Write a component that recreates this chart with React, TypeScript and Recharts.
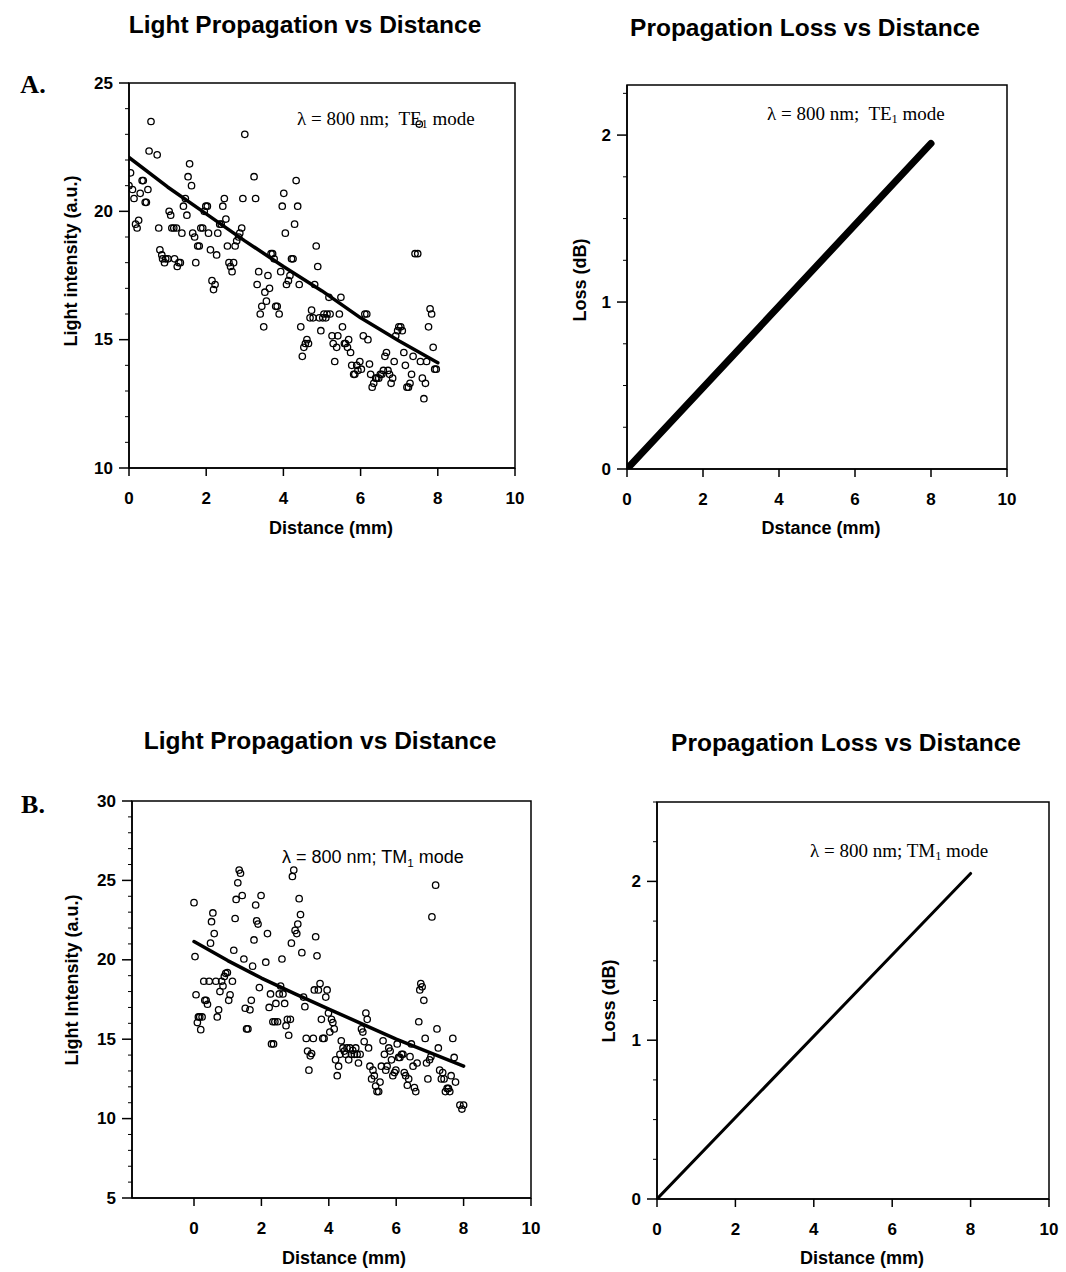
import React from "react";
import { ScatterChart, Scatter, XAxis, YAxis, ReferenceArea } from "recharts";

// [distance mm, light intensity a.u.] (TE1)
const teScan: [number, number][] = [
  [0, 21.0], [0.04, 21.5], [0.09, 20.85], [0.13, 20.5], [0.17, 19.5], [0.21, 19.35], [0.25, 19.65],
  [0.29, 20.7], [0.34, 21.2], [0.37, 21.2], [0.42, 20.35], [0.45, 20.35], [0.49, 20.85], [0.52, 22.35],
  [0.57, 23.5], [0.73, 22.2], [0.77, 19.35], [0.8, 18.5], [0.85, 18.3], [0.87, 18.15], [0.92, 18.0],
  [0.95, 18.15], [1.01, 18.15], [1.04, 20.0], [1.08, 19.85], [1.11, 19.35], [1.16, 19.35], [1.18, 18.15],
  [1.23, 19.35], [1.25, 17.85], [1.29, 18.0], [1.33, 18.0], [1.37, 19.15], [1.41, 20.2], [1.46, 20.5],
  [1.5, 19.85], [1.53, 21.35], [1.57, 21.85], [1.62, 21.0], [1.65, 19.15], [1.7, 19.0], [1.73, 18.0],
  [1.78, 18.65], [1.82, 18.65], [1.86, 19.35], [1.91, 19.35], [1.95, 20.0], [1.99, 20.2], [2.03, 20.2],
  [2.06, 19.15], [2.11, 18.5], [2.15, 17.3], [2.19, 16.95], [2.23, 17.15], [2.27, 18.3], [2.3, 19.15],
  [2.35, 19.5], [2.39, 19.5], [2.43, 20.2], [2.47, 20.5], [2.51, 19.7], [2.55, 18.65], [2.59, 18.0],
  [2.63, 17.85], [2.67, 17.65], [2.71, 18.0], [2.75, 18.65], [2.79, 18.85], [2.84, 19.0], [2.87, 19.15],
  [2.92, 19.35], [2.95, 20.5], [3.0, 23.0], [3.24, 21.35], [3.28, 20.5], [3.32, 17.15], [3.36, 17.65],
  [3.4, 16.0], [3.44, 16.3], [3.49, 15.5], [3.52, 16.85], [3.56, 16.5], [3.6, 17.5], [3.64, 17.0],
  [3.68, 18.35], [3.72, 18.35], [3.76, 18.15], [3.8, 16.3], [3.84, 16.3], [3.89, 16.0], [3.93, 17.65],
  [3.97, 20.2], [4.01, 20.7], [4.05, 19.15], [4.08, 17.15], [4.13, 17.3], [4.17, 17.5], [4.21, 18.15],
  [4.25, 18.15], [4.29, 19.5], [4.33, 21.2], [4.37, 20.2], [4.41, 17.15], [4.45, 15.5], [4.49, 14.35],
  [4.53, 14.7], [4.57, 14.85], [4.61, 15.0], [4.65, 14.85], [4.69, 15.85], [4.73, 16.15], [4.77, 15.85],
  [4.81, 17.15], [4.85, 18.65], [4.89, 17.85], [4.93, 15.85], [4.97, 15.35], [5.02, 15.85], [5.05, 16.0],
  [5.1, 15.85], [5.13, 16.0], [5.18, 16.65], [5.21, 16.0], [5.26, 15.15], [5.29, 14.85], [5.33, 14.15],
  [5.38, 14.7], [5.41, 15.15], [5.45, 16.0], [5.49, 16.65], [5.53, 15.5], [5.58, 14.85], [5.61, 14.85],
  [5.66, 14.7], [5.69, 15.0], [5.74, 14.5], [5.77, 14.0], [5.82, 13.65], [5.85, 13.65], [5.9, 14.0],
  [5.93, 13.8], [5.98, 14.15], [6.02, 13.85], [6.07, 15.15], [6.11, 16.0], [6.16, 16.0], [6.19, 15.0],
  [6.23, 14.05], [6.26, 13.65], [6.3, 13.15], [6.34, 13.3], [6.39, 13.5], [6.42, 13.5], [6.47, 13.5],
  [6.51, 13.65], [6.55, 13.65], [6.59, 13.8], [6.63, 14.35], [6.67, 14.5], [6.71, 13.8], [6.75, 13.65],
  [6.79, 13.3], [6.83, 13.5], [6.87, 14.15], [6.91, 15.15], [6.96, 15.35], [6.99, 15.5], [7.04, 15.5],
  [7.08, 15.35], [7.12, 14.5], [7.16, 14.0], [7.2, 13.15], [7.24, 13.15], [7.28, 13.3], [7.32, 13.65],
  [7.36, 14.35], [7.41, 18.35], [7.48, 18.35], [7.52, 23.4], [7.55, 14.15], [7.6, 13.5], [7.64, 12.7],
  [7.68, 13.3], [7.71, 14.15], [7.76, 15.5], [7.8, 16.2], [7.84, 16.0], [7.88, 14.7], [7.92, 13.85],
  [7.96, 13.85],
];

// [distance mm, light intensity a.u.] (TM1)
const tmScan: [number, number][] = [
  [0, 23.6], [0.03, 20.2], [0.06, 17.8], [0.1, 16.05], [0.13, 16.4], [0.17, 16.4], [0.2, 15.6],
  [0.24, 16.4], [0.29, 18.65], [0.32, 17.45], [0.36, 17.45], [0.4, 17.2], [0.45, 18.65], [0.49, 21.05],
  [0.52, 22.4], [0.56, 22.95], [0.6, 21.65], [0.65, 18.65], [0.69, 16.4], [0.73, 16.85], [0.77, 18.0],
  [0.82, 18.65], [0.86, 18.35], [0.9, 18.95], [0.94, 19.15], [0.99, 19.2], [1.03, 17.45], [1.07, 17.8],
  [1.14, 18.65], [1.18, 20.6], [1.22, 22.6], [1.25, 23.8], [1.3, 24.85], [1.34, 25.65], [1.38, 25.45],
  [1.43, 24.05], [1.48, 20.05], [1.52, 16.95], [1.56, 15.65], [1.6, 15.65], [1.66, 16.85], [1.7, 17.45],
  [1.74, 19.6], [1.78, 21.25], [1.83, 23.45], [1.86, 22.45], [1.9, 22.25], [1.94, 18.25], [1.99, 24.05],
  [2.13, 19.85], [2.18, 21.65], [2.23, 17.0], [2.27, 17.85], [2.3, 14.7], [2.34, 16.1], [2.36, 14.7],
  [2.4, 16.1], [2.43, 17.25], [2.48, 16.1], [2.53, 17.85], [2.57, 18.35], [2.61, 20.05], [2.64, 17.85],
  [2.69, 17.25], [2.73, 15.85], [2.77, 16.25], [2.81, 15.25], [2.86, 16.25], [2.89, 21.05], [2.92, 25.25],
  [2.96, 25.65], [3.0, 21.85], [3.05, 21.65], [3.08, 22.25], [3.12, 23.85], [3.16, 22.85], [3.2, 20.45],
  [3.25, 17.65], [3.29, 17.05], [3.33, 15.05], [3.37, 14.25], [3.41, 13.05], [3.45, 13.95], [3.49, 14.1],
  [3.54, 15.05], [3.57, 18.1], [3.61, 21.45], [3.65, 20.25], [3.69, 18.1], [3.74, 18.5], [3.78, 16.25],
  [3.82, 15.05], [3.86, 15.05], [3.91, 17.65], [3.95, 18.1], [3.99, 16.65], [4.03, 15.45], [4.08, 16.25],
  [4.12, 16.05], [4.16, 15.65], [4.2, 13.7], [4.25, 12.7], [4.29, 13.3], [4.33, 14.05], [4.37, 14.9],
  [4.42, 14.45], [4.46, 14.25], [4.5, 14.05], [4.54, 14.45], [4.59, 13.7], [4.63, 14.45], [4.67, 14.05],
  [4.71, 14.3], [4.76, 14.05], [4.8, 14.45], [4.84, 14.05], [4.88, 13.5], [4.93, 14.05], [4.97, 15.65],
  [5.01, 15.45], [5.05, 14.85], [5.1, 16.65], [5.14, 16.25], [5.18, 14.45], [5.22, 13.3], [5.27, 12.5],
  [5.31, 13.05], [5.35, 12.7], [5.39, 12.05], [5.43, 11.7], [5.48, 11.7], [5.52, 12.3], [5.56, 13.3],
  [5.61, 14.9], [5.65, 14.05], [5.69, 13.05], [5.73, 13.3], [5.78, 14.45], [5.82, 14.25], [5.86, 13.7],
  [5.9, 12.7], [5.95, 12.9], [5.99, 13.05], [6.03, 14.7], [6.07, 13.85], [6.11, 13.85], [6.16, 14.05],
  [6.2, 14.05], [6.24, 12.9], [6.28, 12.7], [6.33, 12.1], [6.37, 12.5], [6.41, 13.9], [6.45, 14.7],
  [6.5, 13.3], [6.54, 11.95], [6.58, 11.7], [6.62, 13.5], [6.67, 16.1], [6.7, 18.1], [6.73, 18.5],
  [6.77, 18.3], [6.82, 17.45], [6.86, 15.05], [6.9, 13.5], [6.94, 12.5], [6.99, 13.7], [7.03, 13.9],
  [7.06, 22.7], [7.17, 24.7], [7.21, 15.65], [7.25, 14.45], [7.29, 13.05], [7.34, 12.5], [7.38, 12.9],
  [7.42, 12.5], [7.46, 11.7], [7.51, 11.9], [7.55, 11.9], [7.59, 11.7], [7.63, 12.7], [7.68, 15.05],
  [7.72, 13.85], [7.76, 12.3], [7.89, 10.85], [7.95, 10.6], [8.0, 10.85],
];

// fitted decay curves, read at whole millimetres
const fitDistance = [0, 1, 2, 3, 4, 5, 6, 7, 8];
const teFit = [22.1, 20.95, 19.9, 18.85, 17.85, 16.9, 15.85, 14.95, 14.1];
const tmFit = [21.15, 19.95, 18.85, 17.85, 16.9, 15.95, 15.0, 14.15, 13.3];

// propagation loss lines
const lossDistance = [0, 8];
const teLoss = [0, 1.95];
const tmLoss = [0, 2.05];

const xTicks = [0, 2, 4, 6, 8, 10];

const SANS = "'Liberation Sans', Arial, sans-serif";
const SERIF = "'Liberation Serif', 'Times New Roman', serif";

const toPoints = (rows: [number, number][]) => rows.map(([x, y]) => ({ x, y }));
const zip = (xs: number[], ys: number[]) => xs.map((x, i) => ({ x, y: ys[i] }));

const range = (a: number, b: number, step: number) => {
  const out: number[] = [];
  for (let v = a; v <= b + 1e-9; v += step) out.push(Math.round(v * 100) / 100);
  return out;
};

const Ring = (p: any) =>
  p.cx == null ? <g /> : (
    <circle cx={p.cx} cy={p.cy} r={3.2} fill="none" stroke="#000" strokeWidth={1.3} />
  );

const NoDot = () => <g />;

interface PanelProps {
  box: { left: number; top: number; width: number; height: number };
  plot: { l: number; r: number; t: number; b: number };
  xDomain: [number, number];
  yDomain: [number, number];
  yMajor: number[];
  yStep: number;
  points?: { x: number; y: number }[];
  fit: { x: number; y: number }[];
  fitWidth: number;
}

function Panel({ box, plot, xDomain, yDomain, yMajor, yStep, points, fit, fitWidth }: PanelProps) {
  const yTicks = range(yDomain[0], yDomain[1], yStep);

  const xTick = (p: any) => (
    <g>
      <line x1={p.x} x2={p.x} y1={p.y} y2={p.y + 8} stroke="#000" strokeWidth={1.5} />
      <text x={p.x} y={p.y + 30} textAnchor="middle" dominantBaseline="central"
        fontFamily={SANS} fontWeight="bold" fontSize={17} fill="#000">
        {p.payload.value}
      </text>
    </g>
  );

  const yTick = (p: any) => {
    const major = yMajor.includes(p.payload.value);
    return (
      <g>
        <line x1={p.x - (major ? 10 : 4)} x2={p.x} y1={p.y} y2={p.y} stroke="#000" strokeWidth={major ? 1.5 : 1} />
        {major && (
          <text x={p.x - 16} y={p.y} textAnchor="end" dominantBaseline="central"
            fontFamily={SANS} fontWeight="bold" fontSize={17} fill="#000">
            {p.payload.value}
          </text>
        )}
      </g>
    );
  };

  // axes take 1px each, so the plot rectangle lands on the page coordinates in `plot`
  return (
    <div style={{ position: "absolute", left: box.left, top: box.top }}>
      <ScatterChart
        width={box.width}
        height={box.height}
        margin={{
          left: plot.l - box.left - 1,
          top: plot.t - box.top,
          right: box.left + box.width - plot.r,
          bottom: box.top + box.height - plot.b - 1,
        }}
      >
        <XAxis type="number" dataKey="x" domain={xDomain} ticks={xTicks} interval={0} allowDataOverflow
          height={1} tickSize={0} tickMargin={0} tickLine={false} tick={xTick}
          axisLine={{ stroke: "#000", strokeWidth: 1.5 }} />
        <YAxis type="number" dataKey="y" domain={yDomain} ticks={yTicks} interval={0} allowDataOverflow
          width={1} tickSize={0} tickMargin={0} tickLine={false} tick={yTick}
          axisLine={{ stroke: "#000", strokeWidth: 1.5 }} />
        <ReferenceArea x1={xDomain[0]} x2={xDomain[1]} y1={yDomain[0]} y2={yDomain[1]}
          fill="none" stroke="#000" strokeWidth={1.5} ifOverflow="visible" />
        {points && <Scatter data={points} shape={Ring} isAnimationActive={false} />}
        <Scatter data={fit} shape={NoDot} lineType="joint" isAnimationActive={false}
          line={{ stroke: "#000", strokeWidth: fitWidth, strokeLinecap: "round", strokeLinejoin: "round" }} />
      </ScatterChart>
    </div>
  );
}

const abs = (x: number, y: number, extra: React.CSSProperties = {}): React.CSSProperties => ({
  position: "absolute", left: x, top: y, transform: "translate(-50%, -50%)",
  whiteSpace: "nowrap", lineHeight: 1, color: "#000", ...extra,
});

const title = (x: number, y: number) => abs(x, y, { fontFamily: SANS, fontWeight: "bold", fontSize: 24.5 });
const axisTitle = (x: number, y: number) => abs(x, y, { fontFamily: SANS, fontWeight: "bold", fontSize: 18 });
const yTitle = (x: number, y: number) =>
  abs(x, y, { fontFamily: SANS, fontWeight: "bold", fontSize: 18, transform: "translate(-50%, -50%) rotate(-90deg)" });
const note = (x: number, y: number, family: string, size: number): React.CSSProperties => ({
  position: "absolute", left: x, top: y, transform: "translateY(-50%)",
  whiteSpace: "nowrap", lineHeight: 1, fontFamily: family, fontSize: size, color: "#000",
});
const sub: React.CSSProperties = { fontSize: "0.65em", verticalAlign: "-0.3em", lineHeight: 0 };

export default function App() {
  return (
    <div style={{ position: "absolute", left: 0, top: 0, width: 1066, height: 1272, background: "#fff", overflow: "hidden" }}>
      {/* Panel A */}
      <div style={title(305, 25)}>Light Propagation vs Distance</div>
      <div style={title(805, 28)}>Propagation Loss vs Distance</div>
      <div style={abs(33, 85, { fontFamily: SERIF, fontWeight: "bold", fontSize: 26 })}>A.</div>

      <Panel
        box={{ left: 40, top: 60, width: 510, height: 500 }}
        plot={{ l: 129, r: 515, t: 83, b: 468 }}
        xDomain={[0, 10]} yDomain={[10, 25]} yMajor={[10, 15, 20, 25]} yStep={1}
        points={toPoints(teScan)} fit={zip(fitDistance, teFit)} fitWidth={3.5}
      />
      <div style={yTitle(71, 261)}>Light intensity (a.u.)</div>
      <div style={axisTitle(331, 528)}>Distance (mm)</div>
      <div style={note(297, 118, SERIF, 19)}>λ = 800 nm;&nbsp; TE<span style={sub}>1</span> mode</div>

      <Panel
        box={{ left: 560, top: 60, width: 480, height: 500 }}
        plot={{ l: 627, r: 1007, t: 85, b: 469 }}
        xDomain={[0, 10]} yDomain={[0, 2.3]} yMajor={[0, 1, 2]} yStep={0.25}
        fit={zip(lossDistance, teLoss)} fitWidth={7}
      />
      <div style={yTitle(580, 280)}>Loss (dB)</div>
      <div style={axisTitle(821, 528)}>Dstance (mm)</div>
      <div style={note(767, 113, SERIF, 19)}>λ = 800 nm;&nbsp; TE<span style={sub}>1</span> mode</div>

      {/* Panel B */}
      <div style={title(320, 741)}>Light Propagation vs Distance</div>
      <div style={title(846, 743)}>Propagation Loss vs Distance</div>
      <div style={abs(33, 805, { fontFamily: SERIF, fontWeight: "bold", fontSize: 26 })}>B.</div>

      <Panel
        box={{ left: 40, top: 780, width: 510, height: 490 }}
        plot={{ l: 132, r: 531, t: 801, b: 1198 }}
        xDomain={[-1.84, 10]} yDomain={[5, 30]} yMajor={[5, 10, 15, 20, 25, 30]} yStep={1}
        points={toPoints(tmScan)} fit={zip(fitDistance, tmFit)} fitWidth={3.5}
      />
      <div style={yTitle(72, 980)}>Light Intensity (a.u.)</div>
      <div style={axisTitle(344, 1258)}>Distance (mm)</div>
      <div style={note(282, 857, SANS, 18)}>λ = 800 nm; TM<span style={sub}>1</span> mode</div>

      <Panel
        box={{ left: 560, top: 780, width: 500, height: 490 }}
        plot={{ l: 657, r: 1049, t: 802, b: 1199 }}
        xDomain={[0, 10]} yDomain={[0, 2.5]} yMajor={[0, 1, 2]} yStep={0.25}
        fit={zip(lossDistance, tmLoss)} fitWidth={3}
      />
      <div style={yTitle(609, 1001)}>Loss (dB)</div>
      <div style={axisTitle(862, 1258)}>Distance (mm)</div>
      <div style={note(810, 850, SERIF, 19)}>λ = 800 nm; TM<span style={sub}>1</span> mode</div>
    </div>
  );
}
